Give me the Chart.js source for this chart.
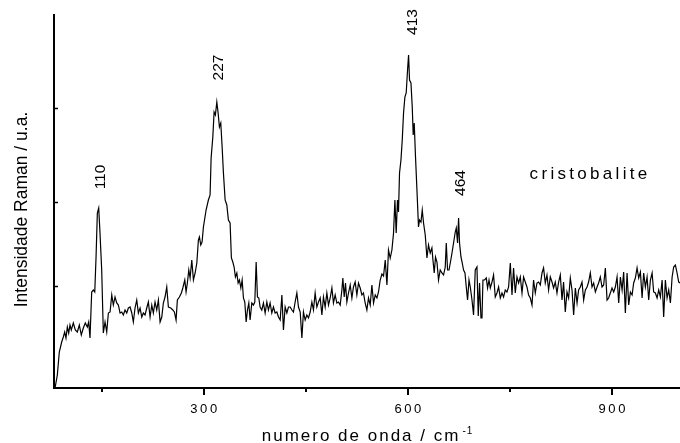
<!DOCTYPE html>
<html><head><meta charset="utf-8">
<script src="https://cdn.jsdelivr.net/npm/chart.js@4.4.0/dist/chart.umd.min.js"></script>
<style>html,body{margin:0;padding:0;background:#fff;}canvas{display:block;}</style>
</head><body>
<canvas id="c" width="680" height="443"></canvas>
<script>
// Raman shift (cm-1)
const waveNumbers = [
81.5,84.9,87.8,91.3,93.7,95.7,97.6,99.6,101.6,103.5,
105.4,108.4,111.3,114.3,117.2,120.1,123.1,126,129,131,
132.9,135.4,137.8,139.9,141.8,143.7,145.7,147.6,150.1,152.5,
155,157.5,159.9,162.4,164.9,167.2,169.7,172.2,174.6,177.1,
179.6,181.9,184.4,186.9,189.3,191.8,194.3,196.6,199.1,201.6,
204,206.5,209,211.3,213.8,216.3,218.7,221.2,223.7,226,
228.5,231,233.4,235.9,238.4,240.7,243.2,245.7,248.1,251.6,
254.6,256.9,259.4,261.3,264.3,267.2,269.3,272.2,274.1,276,
278.1,280,282.5,284.9,287.4,289.9,292.2,293.7,295.7,297.6,
299.6,303.5,306.9,309.4,310.9,313.4,315.3,317.2,319.3,321.2,
323.1,325.1,327.1,329,331.5,334,336.3,338.8,340.7,342.8,
344.7,346.6,348.7,350.6,352.5,354.6,356.5,358.4,360.4,362.4,
364.3,366.3,368.2,370.7,373.1,375.1,377.1,379,381,382.9,
385.4,387.8,390.3,392.8,395.1,397.6,400.1,402.5,405,407.5,
409.9,412.4,414.9,417.2,419.7,422.2,424.6,427.1,429.6,431.9,
434.4,436.9,439.3,441.8,444.3,446.6,449.1,451.6,454,456.5,
459,461.3,463.8,466.3,468.7,471.2,473.7,476,478.5,481,
483.4,485.9,488.4,490.7,493.2,495.7,498.1,500.6,503.1,504.5,
506.5,508.4,510.4,512.8,515.3,517.8,520.1,522.6,525.1,527.5,
530,532.5,534.8,537.3,539.8,542.2,544.7,547.2,549.6,552.1,
554.6,556.9,559.4,561.9,564.3,566.8,569.3,571.6,574.1,576.6,
579,581,582.9,584.8,586.3,587.8,589.9,591.8,593.7,595.7,
597.6,599.6,601.1,602.5,604.6,606.5,607.9,609.4,611.3,613.4,
615.7,617.2,619.3,621.2,623.1,625.6,628.1,630.4,632.9,635.4,
636.9,638.8,640.7,642.8,645.1,647.6,650.1,652.5,655,656.5,
658.4,660.5,662.4,664.9,667.2,669.7,671.2,673.1,674.6,676,
678.1,680,681.9,684,685.9,687.8,689.9,691.8,694.3,696.6,
699.1,701.6,703.5,705.4,707.5,709,710.4,712.8,715.3,717.2,
719.3,721.2,723.7,726,728.5,731,733.4,735.9,738.4,740.7,
743.2,745.7,748.1,750.6,753.1,755.4,757.9,760.4,762.8,765.3,
767.8,770.1,772.6,775.1,777.5,780,782.5,784.8,787.3,789.8,
792.2,794.7,797.2,799.5,802,804.5,806.9,809.4,811.9,814.2,
816.7,819.2,821.6,824.1,826.6,828.9,831.4,833.9,836.3,838.8,
841.3,843.7,846.2,848.7,851,853.5,856,858.4,860.9,863.4,
865.7,868.2,870.7,873.1,875.6,878.1,880.4,882.9,885.4,887.8,
890.3,892.8,895.1,897.6,900.1,902.5,905,907.5,909.9,912.4,
914.9,917.2,919.7,922.2,924.6,927.1,929.6,931.9,934.4,936.9,
939.3,941.8,944.3,946.6,949.1,951.6,954,956.5,959,961.3,
963.8,966.3,968.7,971.2,973.7,976,978.5,981,983.4,985.9,
988.4,990.7,993.2,995.7,998.1,1000.6
];
// Raman intensity (arbitrary units)
const ramanIntensity = [
0,13,36,46,51,56,50,61,55,63,
58,65,58,56,63,53,60,65,61,66,
50,96,98,96,131,175,180,155,118,55,
66,56,75,76,93,83,91,85,83,75,
76,73,78,75,80,81,75,66,80,88,
75,80,71,75,73,80,86,71,83,75,
86,78,88,66,71,85,91,101,81,80,
78,76,68,88,91,95,100,108,96,105,
118,110,128,108,115,125,148,151,143,146,
161,178,188,193,230,251,276,273,286,275,
261,265,241,215,188,183,168,165,130,126,
121,111,115,105,108,100,108,90,86,66,
78,85,68,85,83,86,126,91,90,81,
78,85,75,86,78,85,75,81,75,76,
71,68,93,58,81,75,81,81,78,76,
86,95,81,76,50,76,68,73,70,76,
86,78,95,81,86,90,73,91,81,95,
83,90,100,85,93,85,86,83,98,110,
91,105,86,95,103,90,101,106,93,105,
100,93,95,85,78,90,83,103,85,93,
90,96,108,114,112,128,103,138,130,138,
155,188,155,188,176,215,228,248,275,291,
295,318,333,308,305,281,253,265,231,198,
161,168,166,178,165,153,130,143,135,140,
128,115,131,126,108,118,115,113,121,145,
118,118,125,135,145,156,160,145,170,145,
131,125,118,115,101,88,108,101,88,73,
118,121,72,105,70,70,108,108,110,100,
108,100,106,113,91,95,101,90,95,91,
98,96,101,125,93,120,95,111,105,111,
95,111,106,101,93,90,83,108,95,105,
106,103,115,120,105,113,98,111,106,100,
106,95,106,113,88,106,76,96,90,110,
98,73,100,85,98,101,106,88,98,101,
106,115,101,105,96,101,105,111,101,103,
120,88,90,95,100,96,101,111,85,111,
98,116,75,115,83,96,93,105,110,120,
110,116,90,115,101,111,88,108,115,96,
95,90,98,91,108,71,108,90,98,85,
111,121,123,115,106,105
];
const xMajorTicks = [300, 600, 900];
const xMinorTicks = [150, 450, 750];
const yTickValues = [102, 186, 280];
const peakLabels = ['110', '227', '413', '464'];
const peakLabelX = [155, 329, 614, 684.4];
const peakLabelY = [211, 320.5, 366, 205];
const sampleName = 'cristobalite';
const sampleX = [779];
const sampleY = [214];
const xTitle = 'numero de onda / cm';
const xTitleSup = '-1';
const yTitle = 'Intensidade Raman / u.a.';

const FONT = '"Liberation Sans", Arial, Helvetica, sans-serif';

function spacedWidth(ctx, text, sp) {
  let w = 0;
  for (const ch of text) w += ctx.measureText(ch).width;
  return w + sp * (text.length - 1);
}
function drawSpaced(ctx, text, x, y, sp) {
  let xx = x;
  ctx.textAlign = 'left';
  for (const ch of text) { ctx.fillText(ch, xx, y); xx += ctx.measureText(ch).width + sp; }
  return xx - sp;
}

const decor = {
  id: 'decor',
  afterDraw(chart) {
    const {ctx, chartArea: a} = chart;
    const xs = chart.scales.x, ys = chart.scales.y;
    ctx.save();
    ctx.strokeStyle = '#000';
    ctx.fillStyle = '#000';
    ctx.lineWidth = 2;
    xMajorTicks.forEach(v => {
      const px = Math.round(xs.getPixelForValue(v));
      ctx.beginPath(); ctx.moveTo(px, a.bottom); ctx.lineTo(px, a.bottom + 7); ctx.stroke();
    });
    xMinorTicks.forEach(v => {
      const px = Math.round(xs.getPixelForValue(v));
      ctx.beginPath(); ctx.moveTo(px, a.bottom); ctx.lineTo(px, a.bottom + 4); ctx.stroke();
    });
    ctx.lineWidth = 1.5;
    yTickValues.forEach(v => {
      const py = Math.round(ys.getPixelForValue(v)) + 0.5;
      ctx.beginPath(); ctx.moveTo(a.left, py); ctx.lineTo(a.left + 4, py); ctx.stroke();
    });
    // tick labels
    ctx.font = '13px ' + FONT;
    ctx.textBaseline = 'alphabetic';
    xMajorTicks.forEach(v => {
      const px = xs.getPixelForValue(v);
      const w = spacedWidth(ctx, String(v), 2.6);
      drawSpaced(ctx, String(v), px - w / 2, 413, 2.6);
    });
    // x title
    ctx.font = '17px ' + FONT;
    const wMain = spacedWidth(ctx, xTitle, 2);
    ctx.font = '10px ' + FONT;
    const wSup = spacedWidth(ctx, xTitleSup, 1);
    const total = wMain + 4 + wSup;
    const cx = (a.left + a.right) / 2;
    ctx.font = '17px ' + FONT;
    const endX = drawSpaced(ctx, xTitle, cx - total / 2, 441, 2);
    ctx.font = '10px ' + FONT;
    drawSpaced(ctx, xTitleSup, endX + 4, 434, 1);
    // y title
    ctx.save();
    ctx.translate(26.5, (a.top + a.bottom) / 2 + 8);
    ctx.rotate(-Math.PI / 2);
    ctx.font = '17.5px ' + FONT;
    ctx.textAlign = 'center';
    ctx.fillText(yTitle, 0, 0);
    ctx.restore();
    // peak labels
    ctx.font = '15.5px ' + FONT;
    peakLabels.forEach((t, i) => {
      const px = xs.getPixelForValue(peakLabelX[i]);
      const py = ys.getPixelForValue(peakLabelY[i]);
      ctx.save();
      ctx.translate(px, py);
      ctx.rotate(-Math.PI / 2);
      ctx.textAlign = 'center';
      ctx.textBaseline = 'alphabetic';
      ctx.fillText(t, 0, 0);
      ctx.restore();
    });
    // sample name
    ctx.font = '17px ' + FONT;
    ctx.textBaseline = 'middle';
    drawSpaced(ctx, sampleName, xs.getPixelForValue(sampleX[0]), ys.getPixelForValue(sampleY[0]), 3.3);
    ctx.restore();
  }
};

new Chart(document.getElementById('c').getContext('2d'), {
  type: 'line',
  data: {
    datasets: [{
      data: waveNumbers.map((x, i) => ({x: x, y: ramanIntensity[i]})),
      borderColor: '#000',
      borderWidth: 1.2,
      pointRadius: 0,
      tension: 0,
      fill: false
    }]
  },
  options: {
    responsive: false,
    animation: false,
    devicePixelRatio: 1,
    layout: {padding: {left: 54, top: 15, right: 0, bottom: 55}},
    plugins: {legend: {display: false}, tooltip: {enabled: false}},
    scales: {
      x: {
        type: 'linear', min: 80, max: 1000,
        ticks: {display: false},
        grid: {display: false, drawTicks: false},
        border: {display: true, color: '#000', width: 2}
      },
      y: {
        type: 'linear', min: 0, max: 373,
        ticks: {display: false},
        grid: {display: false, drawTicks: false},
        border: {display: true, color: '#000', width: 2}
      }
    }
  },
  plugins: [decor]
});
</script>
</body></html>
